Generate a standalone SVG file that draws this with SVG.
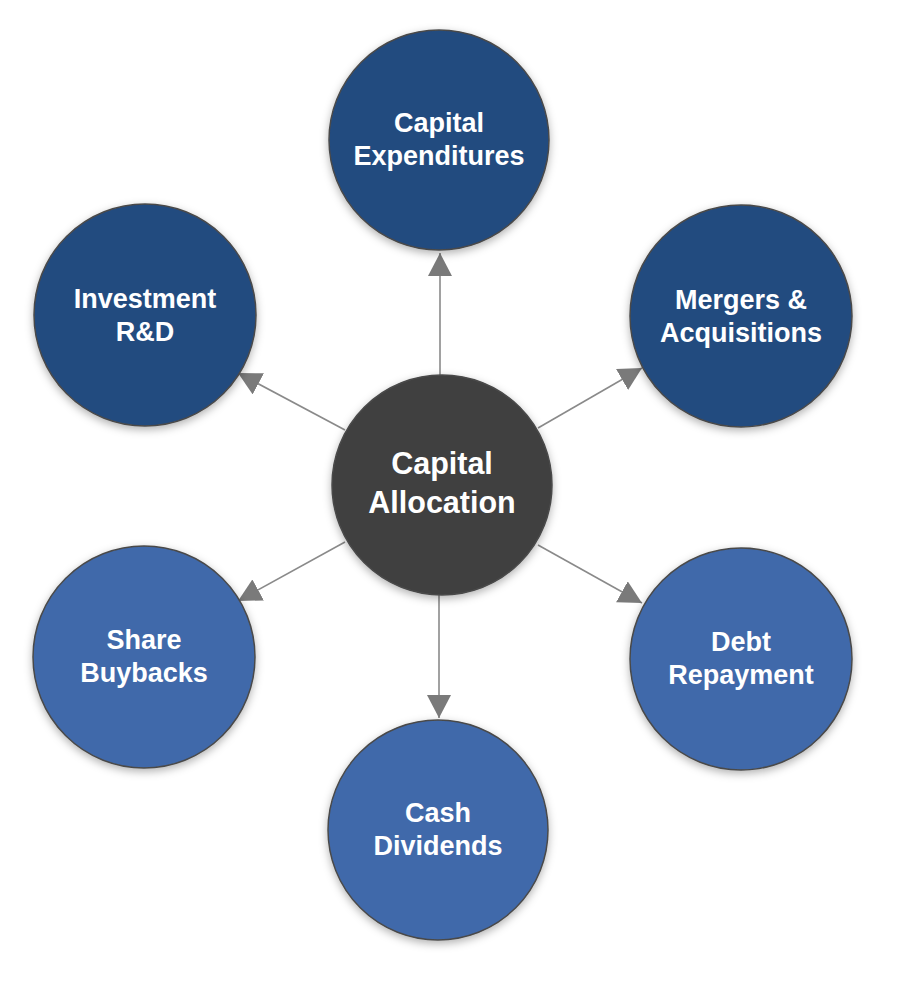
<svg xmlns="http://www.w3.org/2000/svg" width="902" height="986" viewBox="0 0 902 986">
  <style>
    .dark { fill: #234b7f; stroke: #4a4a4a; stroke-width: 1.5; }
    .light { fill: #4169aa; stroke: #4a4a4a; stroke-width: 1.5; }
    .hub { fill: #404040; stroke: #4a4a4a; stroke-width: 1.5; }
    .lbl { font-family: "Liberation Sans", Arial, sans-serif; font-weight: bold; font-size: 27px; fill: #ffffff; text-anchor: middle; }
    .hublbl { font-family: "Liberation Sans", Arial, sans-serif; font-weight: bold; font-size: 30.5px; fill: #ffffff; text-anchor: middle; }
    .conn { stroke: #8a8a8a; stroke-width: 1.6; fill: none; marker-end: url(#arrow); }
  </style>
  <defs>
    <filter id="shadow" x="-20%" y="-20%" width="140%" height="140%">
      <feDropShadow dx="0" dy="3" stdDeviation="4" flood-color="#000" flood-opacity="0.3"/>
    </filter>
    <marker id="arrow" markerUnits="userSpaceOnUse" markerWidth="26" markerHeight="26" refX="23" refY="12" orient="auto">
      <path d="M0,0 L23,12 L0,24 Z" fill="#7a7a7a"/>
    </marker>
  </defs>
  <rect width="902" height="986" fill="#ffffff"/>

  <g id="connectors">
    <line class="conn" x1="440" y1="375" x2="440" y2="253"/>
    <line class="conn" x1="439" y1="594" x2="439" y2="718"/>
    <line class="conn" x1="345" y1="430" x2="238" y2="373"/>
    <line class="conn" x1="538" y1="428" x2="642" y2="368"/>
    <line class="conn" x1="345" y1="542" x2="238" y2="601"/>
    <line class="conn" x1="538" y1="545" x2="642" y2="603"/>
  </g>

  <g id="capex">
    <circle class="dark" cx="439" cy="140" r="110" filter="url(#shadow)"/>
    <text class="lbl" x="439" y="132">Capital</text>
    <text class="lbl" x="439" y="165">Expenditures</text>
  </g>
  <g id="rnd">
    <circle class="dark" cx="145" cy="315" r="111" filter="url(#shadow)"/>
    <text class="lbl" x="145" y="308">Investment</text>
    <text class="lbl" x="145" y="341">R&amp;D</text>
  </g>
  <g id="mna">
    <circle class="dark" cx="741" cy="316" r="111" filter="url(#shadow)"/>
    <text class="lbl" x="741" y="309">Mergers &amp;</text>
    <text class="lbl" x="741" y="342">Acquisitions</text>
  </g>
  <g id="buybacks">
    <circle class="light" cx="144" cy="657" r="111" filter="url(#shadow)"/>
    <text class="lbl" x="144" y="649">Share</text>
    <text class="lbl" x="144" y="682">Buybacks</text>
  </g>
  <g id="debt">
    <circle class="light" cx="741" cy="659" r="111" filter="url(#shadow)"/>
    <text class="lbl" x="741" y="651">Debt</text>
    <text class="lbl" x="741" y="684">Repayment</text>
  </g>
  <g id="dividends">
    <circle class="light" cx="438" cy="830" r="110" filter="url(#shadow)"/>
    <text class="lbl" x="438" y="822">Cash</text>
    <text class="lbl" x="438" y="855">Dividends</text>
  </g>
  <g id="hub">
    <circle class="hub" cx="442" cy="485" r="110" filter="url(#shadow)"/>
    <text class="hublbl" x="442" y="474">Capital</text>
    <text class="hublbl" x="442" y="513">Allocation</text>
  </g>
</svg>
